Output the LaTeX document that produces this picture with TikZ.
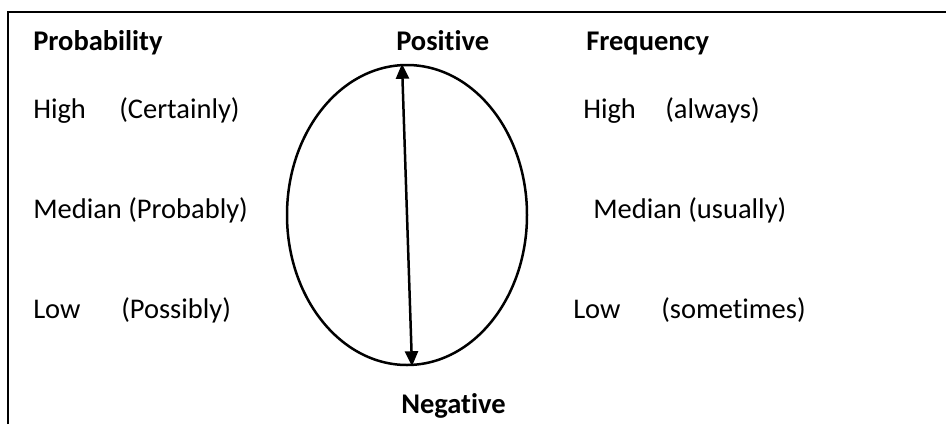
\documentclass[tikz,border=0pt]{standalone}
\usepackage{fontspec}
\setmainfont{Carlito}[Ligatures=NoCommon]
\usetikzlibrary{positioning,arrows.meta,shapes.geometric}

\begin{document}
\begin{tikzpicture}[
  x=1pt, y=-1pt,
  lbl/.style={anchor=base west, inner sep=0pt, font=\fontsize{28.5}{30}\selectfont},
  head/.style={lbl, font=\fontsize{28.5}{30}\selectfont\bfseries},
  >={Triangle[length=15pt,width=13pt]}, line width=2.5pt, color=black
]
\useasboundingbox (0,0) rectangle (946,424);
% frame
\draw[line width=2pt] (8,424) -- (8,12) -- (946,12);

\node[head] (prob) at (32,50)  {Probability};
\node[head] (pos)  at (395,50) {Positive};
\node[head] (freq) at (585,50) {Frequency};

\node[lbl] (hiL)  at (32,118)  {High};
\node[lbl] (hiLc) at (118,118) {(Certainly)};
\node[lbl] (medL) at (32,218)  {Median (Probably)};
\node[lbl] (loL)  at (32,318)  {Low};
\node[lbl] (loLc) at (120,318) {(Possibly)};

\node[lbl] (hiR)  at (582,118) {High};
\node[lbl] (hiRc) at (664,118) {(always)};
\node[lbl] (medR) at (592,218) {Median (usually)};
\node[lbl] (loR)  at (572,318) {Low};
\node[lbl] (loRc) at (660,318) {(sometimes)};

\node[head] (neg) at (400,413) {Negative};

\node[draw, ellipse, minimum width=240pt, minimum height=300pt, inner sep=0pt] (oval) at (407,215) {};
\draw[<->] ([xshift=-5pt]oval.north) -- ([xshift=5pt]oval.south);
\end{tikzpicture}
\end{document}
